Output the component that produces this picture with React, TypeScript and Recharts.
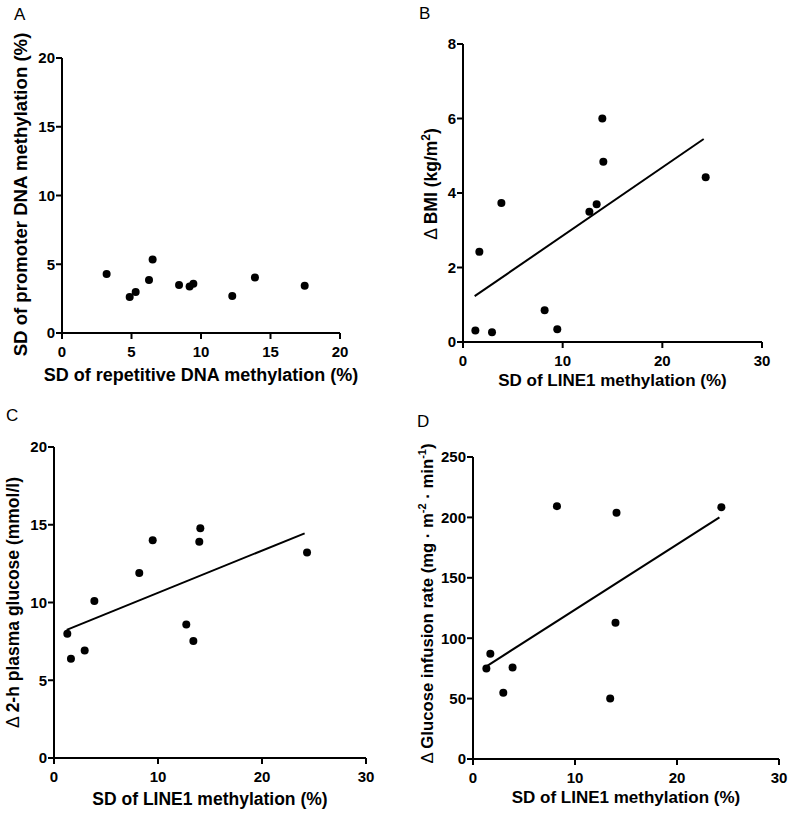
import React from 'react';
import { ScatterChart, Scatter, XAxis, YAxis, ReferenceLine, Label } from 'recharts';

const FONT = '"Liberation Sans", Arial, Helvetica, sans-serif';

// Panel A: SD of repetitive DNA methylation vs SD of promoter DNA methylation
const aX = [3.21, 4.87, 5.3, 6.26, 6.52, 8.42, 9.18, 9.45, 12.25, 13.88, 17.46];
const aY = [4.29, 2.61, 2.98, 3.85, 5.35, 3.49, 3.39, 3.58, 2.69, 4.04, 3.44];
const aXTicks = [0, 5, 10, 15, 20];
const aYTicks = [0, 5, 10, 15, 20];

// Panel B: SD of LINE1 methylation vs delta BMI
const bX = [1.24, 1.64, 2.91, 3.85, 8.19, 9.46, 12.68, 13.41, 13.98, 14.08, 24.35];
const bY = [0.31, 2.42, 0.26, 3.73, 0.85, 0.34, 3.5, 3.7, 6.0, 4.84, 4.42];
const bFit = [{ x: 1.17, y: 1.23 }, { x: 24.15, y: 5.45 }];
const bXTicks = [0, 10, 20, 30];
const bYTicks = [0, 2, 4, 6, 8];

// Panel C: SD of LINE1 methylation vs delta 2-h plasma glucose
const cX = [1.28, 1.63, 2.95, 3.88, 8.2, 9.49, 12.72, 13.4, 13.97, 14.07, 24.33];
const cY = [7.99, 6.38, 6.92, 10.1, 11.9, 14.0, 8.59, 7.52, 13.9, 14.77, 13.21];
const cFit = [{ x: 1.22, y: 8.24 }, { x: 24.1, y: 14.45 }];
const cXTicks = [0, 10, 20, 30];
const cYTicks = [0, 5, 10, 15, 20];

// Panel D: SD of LINE1 methylation vs delta glucose infusion rate
const dX = [1.31, 1.7, 2.97, 3.88, 8.23, 13.45, 13.97, 14.07, 24.35];
const dY = [74.9, 87.1, 54.8, 75.8, 209.3, 50.1, 112.8, 203.8, 208.5];
const dFit = [{ x: 1.24, y: 76.3 }, { x: 24.16, y: 200 }];
const dXTicks = [0, 10, 20, 30];
const dYTicks = [0, 50, 100, 150, 200, 250];

const toPoints = (xs: number[], ys: number[]) => xs.map((x, i) => ({ x, y: ys[i] }));

type Part = { t: string; sup?: boolean; thin?: boolean };

const tickStyle = { fill: '#000', fontSize: 15, fontWeight: 700, fontFamily: FONT };

function makeYLabel(parts: Part[], cx: number, fontSize: number, shiftY: number) {
  return (props: any) => {
    const vb = props.viewBox || {};
    const x = (vb.x ?? 0) + cx;
    const y = (vb.y ?? 0) + (vb.height ?? 0) / 2 + shiftY;
    const supSize = Math.round(fontSize * 0.68);
    const shift = Math.round(fontSize * 0.42);
    const nodes: React.ReactNode[] = [];
    let raised = false;
    parts.forEach((p, i) => {
      let dy: number | undefined = undefined;
      if (p.sup && !raised) {
        dy = -shift;
        raised = true;
      } else if (!p.sup && raised) {
        dy = shift;
        raised = false;
      }
      nodes.push(
        <tspan
          key={i}
          dy={dy}
          fontSize={p.sup ? supSize : fontSize}
          fontWeight={p.thin ? 400 : 700}
        >
          {p.t}
        </tspan>
      );
    });
    return (
      <text
        x={x}
        y={y}
        dy={fontSize * 0.36}
        transform={`rotate(-90, ${x}, ${y})`}
        textAnchor="middle"
        fill="#000"
        fontFamily={FONT}
        fontSize={fontSize}
        fontWeight={700}
      >
        {nodes}
      </text>
    );
  };
}

type PanelProps = {
  left: number;
  top: number;
  width: number;
  height: number;
  margin: { top: number; right: number; bottom: number; left: number };
  yAxisWidth: number;
  xDomain: [number, number];
  yDomain: [number, number];
  xTicks: number[];
  yTicks: number[];
  points: { x: number; y: number }[];
  fit?: { x: number; y: number }[];
  xLabel: string;
  xLabelOffset: number;
  xLabelSize: number;
  yParts: Part[];
  yLabelX: number;
  yLabelSize: number;
  yLabelShift: number;
};

function Panel(p: PanelProps) {
  return (
    <div style={{ position: 'absolute', left: p.left, top: p.top, width: p.width, height: p.height }}>
      <ScatterChart width={p.width} height={p.height} margin={p.margin}>
        <XAxis
          type="number"
          dataKey="x"
          domain={p.xDomain}
          ticks={p.xTicks}
          allowDataOverflow
          height={50}
          tickSize={6}
          tickMargin={7}
          stroke="#000"
          axisLine={{ stroke: '#000', strokeWidth: 2 }}
          tickLine={{ stroke: '#000', strokeWidth: 2 }}
          tick={tickStyle}
          interval={0}
        >
          <Label
            value={p.xLabel}
            position="insideBottom"
            offset={p.xLabelOffset}
            style={{ fill: '#000', fontSize: p.xLabelSize, fontWeight: 700, fontFamily: FONT }}
          />
        </XAxis>
        <YAxis
          type="number"
          dataKey="y"
          domain={p.yDomain}
          ticks={p.yTicks}
          allowDataOverflow
          width={p.yAxisWidth}
          tickSize={6}
          tickMargin={1}
          stroke="#000"
          axisLine={{ stroke: '#000', strokeWidth: 2 }}
          tickLine={{ stroke: '#000', strokeWidth: 2 }}
          tick={tickStyle}
          interval={0}
        >
          <Label content={makeYLabel(p.yParts, p.yLabelX, p.yLabelSize, p.yLabelShift)} />
        </YAxis>
        {p.fit && (
          <ReferenceLine
            segment={p.fit}
            stroke="#000"
            strokeWidth={2}
            ifOverflow="visible"
          />
        )}
        <Scatter
          data={p.points}
          isAnimationActive={false}
          fill="#000"
          shape={(s: any) => <circle cx={s.cx} cy={s.cy} r={4} fill="#000" />}
        />
      </ScatterChart>
    </div>
  );
}

export default function App() {
  return (
    <div
      style={{
        position: 'absolute',
        left: 0,
        top: 0,
        width: 791,
        height: 813,
        background: '#fff',
        overflow: 'hidden',
      }}
    >
      <Panel
        left={0}
        top={0}
        width={395}
        height={400}
        margin={{ top: 58, right: 55, bottom: 17, left: 0 }}
        yAxisWidth={62}
        xDomain={[0, 20]}
        yDomain={[0, 20]}
        xTicks={aXTicks}
        yTicks={aYTicks}
        points={toPoints(aX, aY)}
        xLabel="SD of repetitive DNA methylation (%)"
        xLabelOffset={2}
        xLabelSize={18}
        yParts={[{ t: 'SD of promoter DNA methylation (%)' }]}
        yLabelX={20}
        yLabelSize={18.6}
        yLabelShift={-1}
      />
      <Panel
        left={395}
        top={0}
        width={396}
        height={400}
        margin={{ top: 44, right: 29, bottom: 8, left: 0 }}
        yAxisWidth={68}
        xDomain={[0, 30]}
        yDomain={[0, 8]}
        xTicks={bXTicks}
        yTicks={bYTicks}
        points={toPoints(bX, bY)}
        fit={bFit}
        xLabel="SD of LINE1 methylation (%)"
        xLabelOffset={6}
        xLabelSize={17}
        yParts={[{ t: 'Δ ', thin: true }, { t: 'BMI (kg/m' }, { t: '2', sup: true }, { t: ')' }]}
        yLabelX={36}
        yLabelSize={17.5}
        yLabelShift={-9}
      />
      <Panel
        left={0}
        top={400}
        width={395}
        height={413}
        margin={{ top: 47, right: 29, bottom: 5, left: 0 }}
        yAxisWidth={54}
        xDomain={[0, 30]}
        yDomain={[0, 20]}
        xTicks={cXTicks}
        yTicks={cYTicks}
        points={toPoints(cX, cY)}
        fit={cFit}
        xLabel="SD of LINE1 methylation (%)"
        xLabelOffset={3}
        xLabelSize={17.5}
        yParts={[{ t: 'Δ ', thin: true }, { t: '2-h plasma glucose (mmol/l)' }]}
        yLabelX={13}
        yLabelSize={17.5}
        yLabelShift={0}
      />
      <Panel
        left={395}
        top={400}
        width={396}
        height={413}
        margin={{ top: 57, right: 12, bottom: 4, left: 0 }}
        yAxisWidth={78}
        xDomain={[0, 30]}
        yDomain={[0, 250]}
        xTicks={dXTicks}
        yTicks={dYTicks}
        points={toPoints(dX, dY)}
        fit={dFit}
        xLabel="SD of LINE1 methylation (%)"
        xLabelOffset={6}
        xLabelSize={17}
        yParts={[
          { t: 'Δ ', thin: true },
          { t: 'Glucose infusion rate (mg · m' },
          { t: '-2', sup: true },
          { t: ' · min' },
          { t: '-1', sup: true },
          { t: ')' },
        ]}
        yLabelX={32}
        yLabelSize={16.7}
        yLabelShift={-4.5}
      />
      <svg
        width={791}
        height={813}
        style={{ position: 'absolute', left: 0, top: 0, pointerEvents: 'none' }}
      >
        <g fontFamily={FONT} fontSize={17} fill="#000">
          <text x={14} y={19.5}>A</text>
          <text x={419} y={18.5}>B</text>
          <text x={6} y={420.5}>C</text>
          <text x={417} y={427}>D</text>
        </g>
      </svg>
    </div>
  );
}
